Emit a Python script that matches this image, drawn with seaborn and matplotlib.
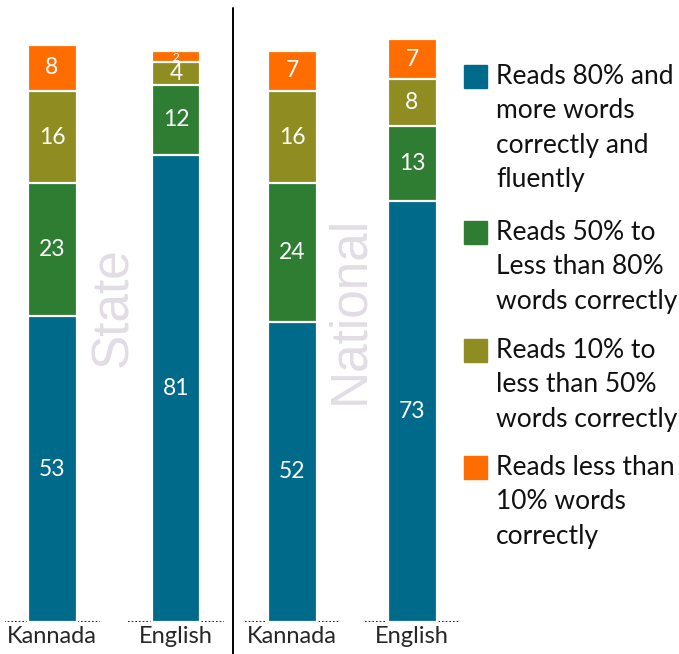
import matplotlib.pyplot as plt
import seaborn as sns

# data (bottom -> top of each stack)
languages = ['Kannada', 'English']
levels = ['Reads 80% and\nmore words\ncorrectly and\nfluently',
          'Reads 50% to\nLess than 80%\nwords correctly',
          'Reads 10% to\nless than 50%\nwords correctly',
          'Reads less than\n10% words\ncorrectly']
state_80 = [53, 81]
state_50 = [23, 12]
state_10 = [16, 4]
state_lt10 = [8, 2]
national_80 = [52, 73]
national_50 = [24, 13]
national_10 = [16, 8]
national_lt10 = [7, 7]

colors = ['#006a8a', '#2e7d32', '#8f8c22', '#ff6d00']

W, H = 679, 654
sns.set_style('white')
plt.rcParams['font.family'] = ['Lato', 'DejaVu Sans']

fig = plt.figure(figsize=(W / 100, H / 100), dpi=100)


def stacked(ax, series, width):
    # draw cumulative bars from the top segment down so lower ones sit in front
    tops = []
    run = [0, 0]
    for s in series:
        run = [a + b for a, b in zip(run, s)]
        tops.append(list(run))
    for k in range(len(series) - 1, -1, -1):
        sns.barplot(x=languages, y=tops[k], color=colors[k], width=width,
                    edgecolor='white', linewidth=1.6, saturation=1, ax=ax)
    for k, s in enumerate(series):
        for i, v in enumerate(s):
            base = tops[k][i] - v
            if v >= 4:
                ax.text(i, base + v / 2, str(v), ha='center', va='center',
                        color='white', fontsize=16.5)
            else:
                # tiny segment: smaller label centred on the glyph itself
                ax.text(i, base + v / 2, str(v), ha='center', va='center_baseline',
                        color='white', fontsize=8.5)
    for i in range(len(languages)):
        ax.hlines(0, i - 0.39, i + 0.39, colors='black', linewidth=1.2,
                  linestyles=(0, (1, 1.2)), zorder=0)


def make_axes(x0, x1):
    return fig.add_axes([x0 / W, 32 / H, (x1 - x0) / W, 606 / H])


ax1 = make_axes(5, 225)
stacked(ax1, [state_80, state_50, state_10, state_lt10], 49 / 124)
ax1.set_xlim(-47 / 124, 173 / 124)

ax2 = make_axes(245, 462)
stacked(ax2, [national_80, national_50, national_10, national_lt10], 49 / 120)
ax2.set_xlim(-47 / 120, 170 / 120)

for ax in (ax1, ax2):
    ax.set_ylim(0, 105)
    ax.set_yticks([])
    ax.set_ylabel('')
    ax.set_xlabel('')
    sns.despine(ax=ax, left=True, bottom=True)
    ax.tick_params(axis='x', length=0, pad=3, labelsize=17)
    ax.patch.set_alpha(0)

ax1.text(0.5, 54.5, 'State', rotation=90, ha='center', va='center',
         color='#e2dce5', fontsize=37, family='Liberation Sans', zorder=0)
ax2.text(0.48, 54.1, 'National', rotation=90, ha='center', va='center',
         color='#e2dce5', fontsize=37, family='Liberation Sans', zorder=0)

# separator between the two panels
fig.add_artist(plt.Line2D([233 / W, 233 / W], [0, 1 - 8 / H], color='black', linewidth=1.4))

# legend drawn by hand so the swatch lines up with the first text line
sq_tops = [65, 221, 339, 456]
for lab, col, top in zip(levels, colors, sq_tops):
    fig.add_artist(plt.Rectangle((464 / W, 1 - (top + 23) / H), 23 / W, 23 / H,
                                 color=col, transform=fig.transFigure))
    fig.text(496 / W, 1 - (top - 1) / H, lab, ha='left', va='top',
             fontsize=19, linespacing=1.47, color='#111111')

fig.savefig('out.png', dpi=100)
